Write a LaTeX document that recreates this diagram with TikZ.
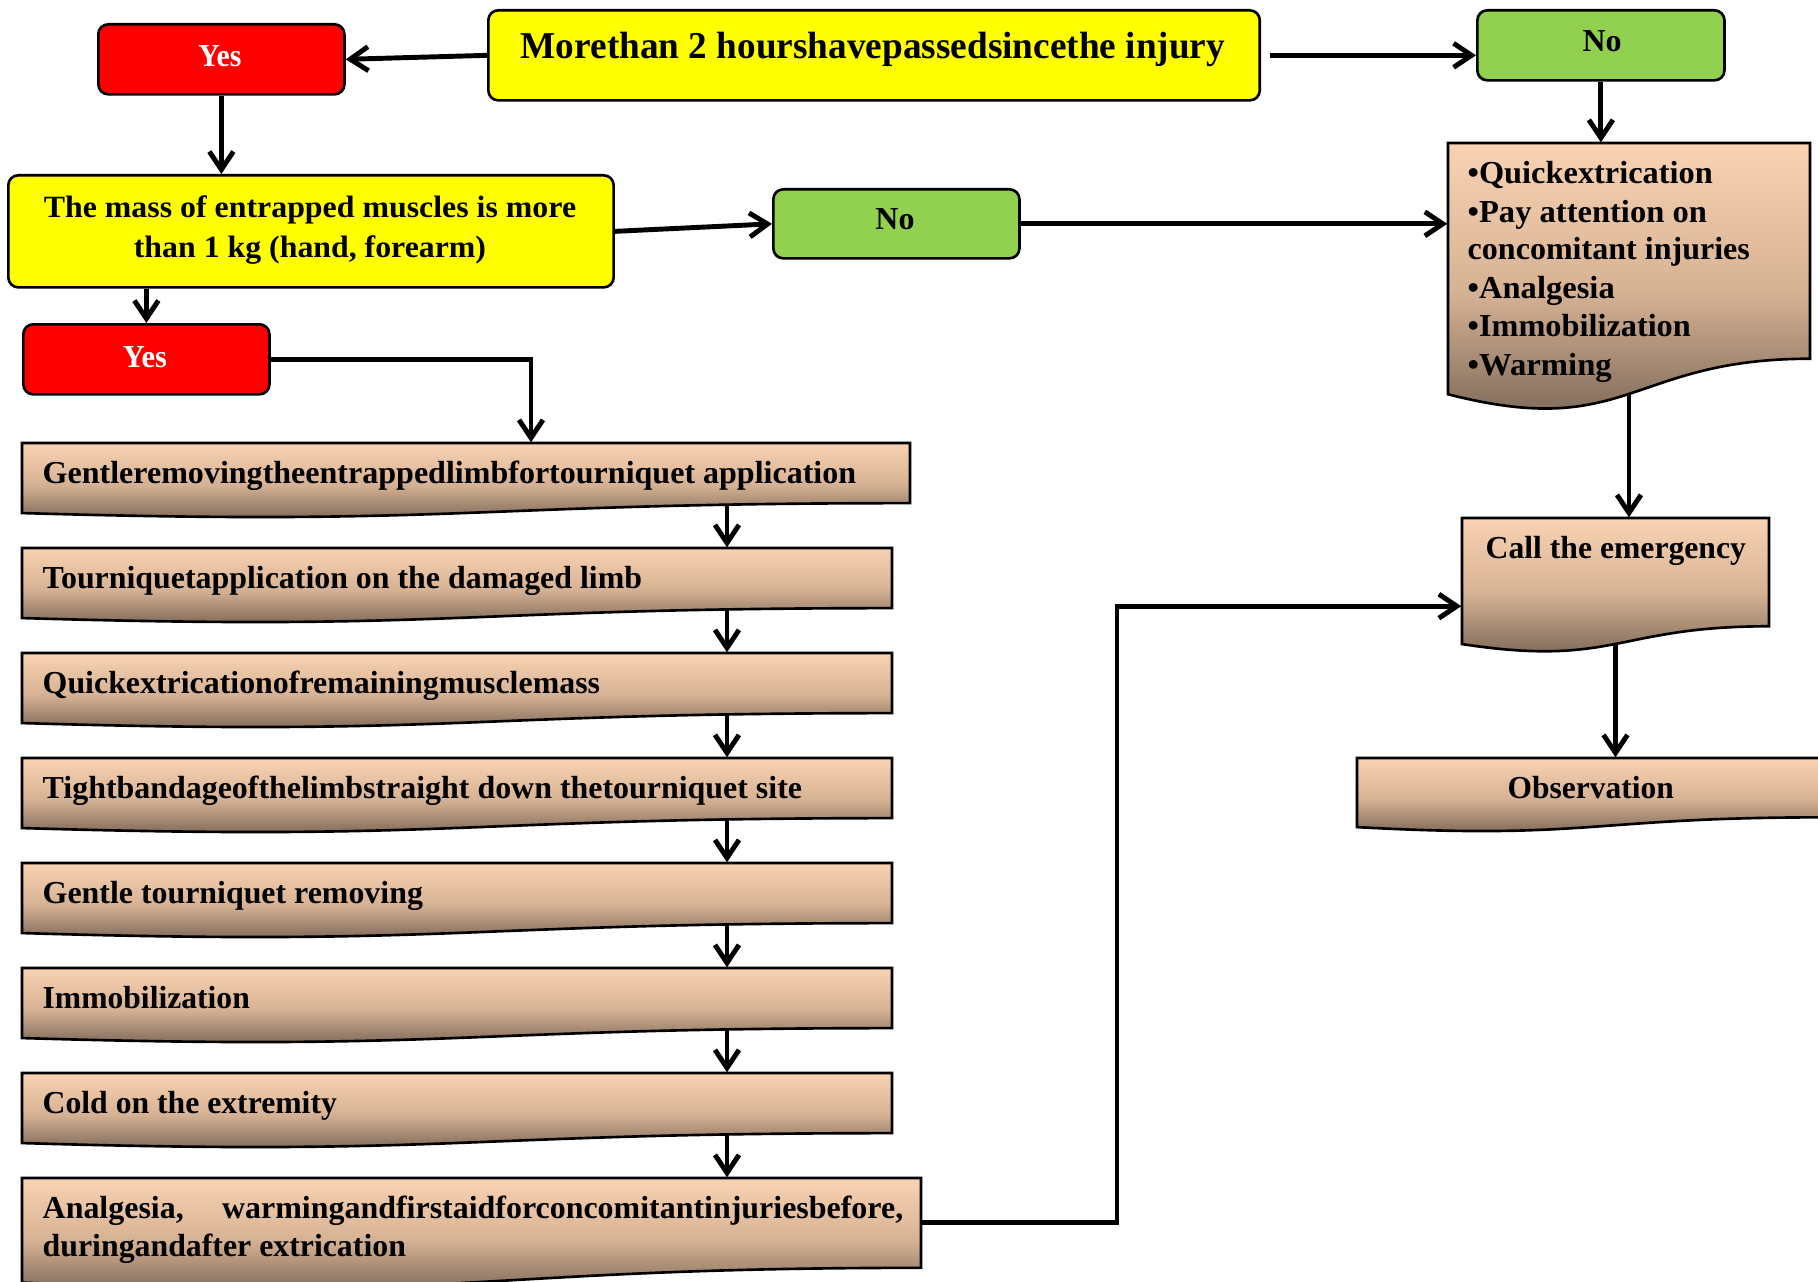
\documentclass[tikz,border=0pt]{standalone}
\usepackage{fontspec}
\setmainfont{Liberation Serif}
\usetikzlibrary{arrows.meta,fit}
\definecolor{ylw}{HTML}{FFFF00}
\definecolor{rd}{HTML}{FF0000}
\definecolor{grn}{HTML}{92D050}
\definecolor{peach}{RGB}{249,211,178}
\definecolor{tanc}{RGB}{214,178,148}
\definecolor{brn}{RGB}{110,92,78}
\newcommand\fitw[2]{\resizebox{#1}{\height}{#2}}
\newcommand\bodyf{\fontsize{9.1}{11}\selectfont\bfseries}
\newcommand\titlef{\fontsize{10.8}{13}\selectfont\bfseries}
\newcommand\massf{\fontsize{8.8}{11}\selectfont\bfseries}
\newcommand\docshape[5]{%
  \shadedraw[docstyle] (#2,#3) -- (#4,#3) -- (#4,{#3+0.802*#5})
     .. controls ({(#2+#4)/2},{#3+0.802*#5}) and ({(#2+#4)/2},{#3+1.107*#5}) .. (#2,{#3+0.934*#5}) -- cycle;
  \coordinate (#1-nw) at (#2,#3);
  \coordinate (#1-se) at (#4,{#3+0.802*#5});
  \coordinate (#1-wave) at ({(#2+#4)/2},{#3+0.933*#5});
  \node[fit=(#1-nw)(#1-se),inner sep=0pt] (#1) {};
}
\tikzset{
  docstyle/.style={draw=black, line width=0.75pt, top color=peach, bottom color=brn, middle color=tanc},
  rbox/.style={draw=black, line width=0.75pt, rounded corners=0.1cm, inner sep=0pt, anchor=north west},
  arr/.style={-{Straight Barb[length=1.8mm,width=2.4mm]}, line width=1.4pt},
  txt/.style={inner sep=0pt, font=\bodyf},
}
\begin{document}
\begin{tikzpicture}[x=0.01cm,y=-0.01cm]
\useasboundingbox (0,0) rectangle (1818,1282);
% colored boxes
\node[rbox, fill=ylw, minimum width=7.71cm, minimum height=0.90cm] (title) at (487,9) {};
\node[rbox, fill=rd, minimum width=2.46cm, minimum height=0.70cm] (yes1) at (97,23) {};
\node[rbox, fill=grn, minimum width=2.47cm, minimum height=0.70cm] (no1) at (1476,9) {};
\node[rbox, fill=ylw, minimum width=6.05cm, minimum height=1.12cm] (mass) at (7,174) {};
\node[rbox, fill=grn, minimum width=2.46cm, minimum height=0.69cm] (no2) at (772,188) {};
\node[rbox, fill=rd, minimum width=2.46cm, minimum height=0.70cm] (yes2) at (22,323) {};
% document shapes
\docshape{doc1}{1448}{143}{1810}{269}
\docshape{call}{1462}{518}{1769}{135}
\docshape{obs}{1357}{758}{1823}{74}
\docshape{s1}{22}{443}{910}{75}
\docshape{s2}{22}{548}{892}{75}
\docshape{s3}{22}{653}{892}{75}
\docshape{s4}{22}{758}{892}{75}
\docshape{s5}{22}{863}{892}{75}
\docshape{s6}{22}{968}{892}{75}
\docshape{s7}{22}{1073}{892}{75}
\docshape{s8}{22}{1178}{921}{112}
% texts
\node[inner sep=0pt, anchor=base, font=\titlef] (title-t) at (873,59) {\fitw{7.04cm}{Morethan 2 hourshavepassedsincethe injury}};
\node[txt, anchor=base, text=white] (yes1-t) at (220,67) {\fitw{0.43cm}{Yes}};
\node[txt, anchor=base] (no1-t) at (1602,52) {\fitw{0.39cm}{No}};
\node[inner sep=0pt, anchor=base, font=\massf] (mass-t1) at (310,218) {\fitw{5.32cm}{The mass of entrapped muscles is more}};
\node[inner sep=0pt, anchor=base, font=\massf] (mass-t2) at (310,257) {\fitw{3.52cm}{than 1 kg (hand, forearm)}};
\node[txt, anchor=base] (no2-t) at (895,230) {\fitw{0.39cm}{No}};
\node[txt, anchor=base, text=white] (yes2-t) at (145,367) {\fitw{0.44cm}{Yes}};
\node[txt, anchor=base west] (d1) at (1467,183) {\fitw{2.45cm}{•Quickextrication}};
\node[txt, anchor=base west] (d2) at (1467,222) {\fitw{2.39cm}{•Pay attention on}};
\node[txt, anchor=base west] (d3) at (1467,260) {\fitw{2.82cm}{concomitant injuries}};
\node[txt, anchor=base west] (d4) at (1467,298) {\fitw{1.47cm}{•Analgesia}};
\node[txt, anchor=base west] (d5) at (1467,336) {\fitw{2.23cm}{•Immobilization}};
\node[txt, anchor=base west] (d6) at (1467,375) {\fitw{1.44cm}{•Warming}};
\node[txt, anchor=base west] (call-t) at (1485,558) {\fitw{2.60cm}{Call the emergency}};
\node[txt, anchor=base west] (obs-t) at (1507,798) {\fitw{1.66cm}{Observation}};
\node[txt, anchor=base west] (s1-t) at (42,483) {\fitw{8.13cm}{Gentleremovingtheentrappedlimbfortourniquet application}};
\node[txt, anchor=base west] (s2-t) at (42,588) {\fitw{5.99cm}{Tourniquetapplication on the damaged limb}};
\node[txt, anchor=base west] (s3-t) at (42,693) {\fitw{5.57cm}{Quickextricationofremainingmusclemass}};
\node[txt, anchor=base west] (s4-t) at (42,798) {\fitw{7.59cm}{Tightbandageofthelimbstraight down thetourniquet site}};
\node[txt, anchor=base west] (s5-t) at (42,903) {\fitw{3.80cm}{Gentle tourniquet removing}};
\node[txt, anchor=base west] (s6-t) at (42,1008) {\fitw{2.07cm}{Immobilization}};
\node[txt, anchor=base west] (s7-t) at (42,1113) {\fitw{2.94cm}{Cold on the extremity}};
\node[txt, anchor=base west] (s8-t1) at (42,1218) {\fitw{8.60cm}{Analgesia,\hspace{1.2em}warmingandfirstaidforconcomitantinjuriesbefore,}};
\node[txt, anchor=base west] (s8-t2) at (42,1256) {\fitw{3.63cm}{duringandafter extrication}};
% connectors
\draw[arr] (title.west) -- (yes1.east);
\draw[arr] ([xshift=0.09cm]title.east) -- (title.east -| no1.west);
\draw[arr] (yes1.south) -- (yes1.south |- mass.north);
\draw[arr] (yes2.north |- mass.south) -- (yes2.north);
\draw[arr] (mass.east) -- (no2.west);
\draw[arr] (no2.east) -- (no2.east -| doc1.west);
\draw[arr] (no1.south) -- (no1.south |- doc1.north);
\draw[arr] (doc1-wave) -- (doc1-wave |- call.north);
\draw[arr] (call-wave) -- (call-wave |- obs.north);
\draw[arr] (yes2.east) -| (s1.north -| 531,0);
\draw[arr] (s1.south -| 727,0) -- (s2.north -| 727,0);
\draw[arr] (s2.south -| 727,0) -- (s3.north -| 727,0);
\draw[arr] (s3.south -| 727,0) -- (s4.north -| 727,0);
\draw[arr] (s4.south -| 727,0) -- (s5.north -| 727,0);
\draw[arr] (s5.south -| 727,0) -- (s6.north -| 727,0);
\draw[arr] (s6.south -| 727,0) -- (s7.north -| 727,0);
\draw[arr] (s7.south -| 727,0) -- (s8.north -| 727,0);
\draw[arr] (s8.east) -- (s8.east -| 1117,0) |- ([yshift=-0.34cm]call.west);
\end{tikzpicture}
\end{document}
